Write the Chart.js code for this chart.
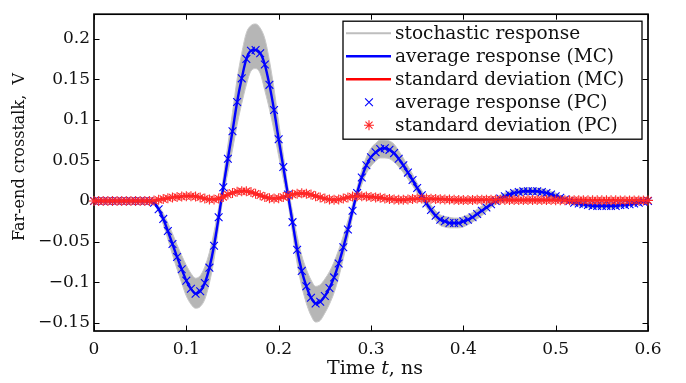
<!DOCTYPE html>
<html>
<head>
<meta charset="utf-8">
<script src="https://cdn.jsdelivr.net/npm/chart.js@4.4.1/dist/chart.umd.min.js"></script>
<style>
  html, body { margin: 0; padding: 0; background: #fff; }
  canvas { display: block; }
</style>
</head>
<body>
<canvas id="myChart" width="686" height="383"></canvas>
<script>
const timeNs = [
  0, 0.005, 0.01, 0.015, 0.02, 0.025, 0.03, 0.035, 0.04, 0.045,
  0.05, 0.055, 0.06, 0.065, 0.07, 0.075, 0.08, 0.085, 0.09, 0.095,
  0.1, 0.105, 0.11, 0.115, 0.12, 0.125, 0.13, 0.135, 0.14, 0.145,
  0.15, 0.155, 0.16, 0.165, 0.17, 0.175, 0.18, 0.185, 0.19, 0.195,
  0.2, 0.205, 0.21, 0.215, 0.22, 0.225, 0.23, 0.235, 0.24, 0.245,
  0.25, 0.255, 0.26, 0.265, 0.27, 0.275, 0.28, 0.285, 0.29, 0.295,
  0.3, 0.305, 0.31, 0.315, 0.32, 0.325, 0.33, 0.335, 0.34, 0.345,
  0.35, 0.355, 0.36, 0.365, 0.37, 0.375, 0.38, 0.385, 0.39, 0.395,
  0.4, 0.405, 0.41, 0.415, 0.42, 0.425, 0.43, 0.435, 0.44, 0.445,
  0.45, 0.455, 0.46, 0.465, 0.47, 0.475, 0.48, 0.485, 0.49, 0.495,
  0.5, 0.505, 0.51, 0.515, 0.52, 0.525, 0.53, 0.535, 0.54, 0.545,
  0.55, 0.555, 0.56, 0.565, 0.57, 0.575, 0.58, 0.585, 0.59, 0.595,
  0.6
];

const avgResponse = [
  0, 0, 0, 0, 0, 0, 0, 0, 0, 0,
  0, 0, 0, -0.002, -0.010, -0.022, -0.037, -0.053, -0.069, -0.084,
  -0.098, -0.108, -0.114, -0.111, -0.101, -0.082, -0.055, -0.020, 0.017, 0.052,
  0.086, 0.122, 0.151, 0.175, 0.185, 0.186, 0.182, 0.168, 0.143, 0.112,
  0.076, 0.042, 0.008, -0.026, -0.060, -0.086, -0.105, -0.119, -0.126, -0.124,
  -0.117, -0.107, -0.094, -0.077, -0.057, -0.035, -0.012, 0.010, 0.029, 0.044,
  0.054, 0.060, 0.064, 0.065, 0.063, 0.059, 0.052, 0.044, 0.035, 0.026,
  0.016, 0.007, -0.003, -0.011, -0.018, -0.023, -0.025, -0.027, -0.027, -0.027,
  -0.025, -0.023, -0.020, -0.016, -0.012, -0.008, -0.004, 0.000, 0.003, 0.006,
  0.008, 0.010, 0.011, 0.012, 0.012, 0.012, 0.012, 0.011, 0.010, 0.008,
  0.006, 0.004, 0.002, 0.000, -0.002, -0.003, -0.004, -0.005, -0.006, -0.006,
  -0.006, -0.006, -0.006, -0.006, -0.005, -0.005, -0.004, -0.003, -0.002, -0.001,
  0.000
];

const stdDeviation = [
  0, 0, 0, 0, 0, 0, 0, 0, 0, 0,
  0, 0, 0, 0.0005, 0.0015, 0.0025, 0.0035, 0.0045, 0.005, 0.0055,
  0.006, 0.006, 0.0055, 0.0045, 0.003, 0.002, 0.002, 0.003, 0.005, 0.008,
  0.010, 0.0115, 0.012, 0.012, 0.011, 0.009, 0.007, 0.005, 0.0035, 0.003,
  0.0035, 0.005, 0.0065, 0.008, 0.009, 0.0095, 0.009, 0.008, 0.006, 0.0045,
  0.003, 0.002, 0.0015, 0.002, 0.003, 0.0045, 0.0055, 0.006, 0.006, 0.0055,
  0.005, 0.0045, 0.004, 0.003, 0.0025, 0.002, 0.0015, 0.0015, 0.002, 0.0025,
  0.003, 0.003, 0.003, 0.0028, 0.0025, 0.0022, 0.002, 0.0018, 0.0015, 0.0013,
  0.0012, 0.0012, 0.0013, 0.0015, 0.0016, 0.0017, 0.0017, 0.0016, 0.0015, 0.0014,
  0.0013, 0.0012, 0.0012, 0.0012, 0.0013, 0.0013, 0.0013, 0.0013, 0.0012, 0.0012,
  0.0011, 0.0011, 0.001, 0.001, 0.001, 0.001, 0.001, 0.0009, 0.0009, 0.0009,
  0.0009, 0.0009, 0.0009, 0.0009, 0.0008, 0.0008, 0.0008, 0.0008, 0.0008, 0.0008,
  0.0008
];

// spread of the stochastic (Monte Carlo) responses: top and bottom of the grey bundle
const stochasticUpper = [
  0, 0, 0, 0, 0, 0, 0, 0, 0, 0,
  0, 0, 0, 0.000, -0.006, -0.015, -0.027, -0.040, -0.054, -0.067,
  -0.079, -0.089, -0.095, -0.092, -0.081, -0.063, -0.038, -0.008, 0.029, 0.069,
  0.109, 0.150, 0.182, 0.207, 0.216, 0.218, 0.213, 0.200, 0.173, 0.138,
  0.097, 0.057, 0.018, -0.013, -0.043, -0.067, -0.084, -0.097, -0.105, -0.103,
  -0.096, -0.087, -0.075, -0.060, -0.043, -0.024, -0.004, 0.017, 0.038, 0.054,
  0.065, 0.071, 0.075, 0.075, 0.074, 0.070, 0.062, 0.053, 0.043, 0.033,
  0.022, 0.013, 0.003, -0.005, -0.012, -0.017, -0.019, -0.020, -0.021, -0.021,
  -0.019, -0.017, -0.014, -0.010, -0.006, -0.003, 0.001, 0.004, 0.007, 0.010,
  0.012, 0.014, 0.015, 0.016, 0.016, 0.016, 0.016, 0.015, 0.014, 0.012,
  0.010, 0.007, 0.005, 0.003, 0.001, -0.001, -0.002, -0.003, -0.003, -0.003,
  -0.003, -0.003, -0.003, -0.003, -0.003, -0.003, -0.002, -0.001, 0.000, 0.000,
  0.000
];

const stochasticLower = [
  0, 0, 0, 0, 0, 0, 0, 0, 0, 0,
  0, 0, 0, -0.004, -0.014, -0.029, -0.047, -0.066, -0.084, -0.101,
  -0.117, -0.127, -0.132, -0.130, -0.121, -0.101, -0.072, -0.032, 0.005, 0.035,
  0.063, 0.094, 0.120, 0.143, 0.160, 0.163, 0.157, 0.136, 0.113, 0.086,
  0.055, 0.027, -0.002, -0.039, -0.077, -0.105, -0.126, -0.141, -0.149, -0.147,
  -0.138, -0.127, -0.113, -0.094, -0.071, -0.046, -0.020, 0.003, 0.020, 0.034,
  0.043, 0.049, 0.053, 0.053, 0.052, 0.048, 0.042, 0.035, 0.027, 0.019,
  0.010, 0.001, -0.008, -0.017, -0.024, -0.030, -0.032, -0.033, -0.033, -0.033,
  -0.032, -0.029, -0.026, -0.022, -0.018, -0.013, -0.008, -0.004, -0.001, 0.002,
  0.004, 0.006, 0.007, 0.008, 0.008, 0.008, 0.008, 0.007, 0.006, 0.004,
  0.002, 0.001, -0.001, -0.003, -0.005, -0.006, -0.007, -0.008, -0.009, -0.009,
  -0.009, -0.009, -0.009, -0.009, -0.008, -0.007, -0.006, -0.005, -0.004, -0.002,
  0.000
];

const xTickValues = [0, 0.1, 0.2, 0.3, 0.4, 0.5, 0.6];
const xTickLabels = ['0', '0.1', '0.2', '0.3', '0.4', '0.5', '0.6'];
const yTickValues = [-0.15, -0.1, -0.05, 0, 0.05, 0.1, 0.15, 0.2];
const yTickLabels = ['\u22120.15', '\u22120.1', '\u22120.05', '0', '0.05', '0.1', '0.15', '0.2'];

const serif = '"DejaVu Serif", "Liberation Serif", serif';

const toPoints = (ys) => timeNs.map((t, i) => ({ x: t, y: ys[i] }));

const lineSet = (label, ys, color, width, order) => ({
  label,
  data: toPoints(ys),
  borderColor: color,
  backgroundColor: color,
  borderWidth: width,
  pointRadius: 0,
  cubicInterpolationMode: 'monotone',
  fill: false,
  order
});

const markerSet = (label, ys, color, style, radius, order) => ({
  label,
  data: toPoints(ys),
  showLine: false,
  borderColor: color,
  backgroundColor: color,
  pointStyle: style,
  pointRadius: radius,
  pointBorderWidth: 1.1,
  clip: false,
  order
});

const datasets = [
  Object.assign(lineSet('stochastic response', stochasticUpper, 'rgb(200,200,200)', 1, 4), { legendColor: 'rgb(190,190,190)' }),
  Object.assign(lineSet('', stochasticLower, 'rgb(200,200,200)', 1, 5), { fill: '-1', backgroundColor: 'rgb(182,182,182)' }),
  lineSet('average response (MC)', avgResponse, '#0000ff', 2.4, 3),
  lineSet('standard deviation (MC)', stdDeviation, '#ff0000', 2.4, 2),
  markerSet('average response (PC)', avgResponse, '#0000ff', 'crossRot', 5.5, 1),
  markerSet('standard deviation (PC)', stdDeviation, 'rgb(255,40,40)', 'star', 5, 0)
];

const drawMarker = (ctx, style, x, y, r) => {
  ctx.beginPath();
  if (style === 'crossRot' || style === 'star') {
    const d = r * Math.SQRT1_2;
    ctx.moveTo(x - d, y - d); ctx.lineTo(x + d, y + d);
    ctx.moveTo(x - d, y + d); ctx.lineTo(x + d, y - d);
  }
  if (style === 'star') {
    ctx.moveTo(x - r, y); ctx.lineTo(x + r, y);
    ctx.moveTo(x, y - r); ctx.lineTo(x, y + r);
  }
  ctx.stroke();
};

const framePlugin = {
  id: 'frame',
  beforeDatasetsDraw(chart) {
    const { ctx, chartArea: a, scales } = chart;
    ctx.save();
    ctx.strokeStyle = '#000';
    ctx.lineWidth = 1;
    const tick = 5.5;
    xTickValues.forEach(v => {
      const px = Math.round(scales.x.getPixelForValue(v)) + 0.5;
      ctx.beginPath();
      ctx.moveTo(px, a.bottom); ctx.lineTo(px, a.bottom - tick);
      ctx.moveTo(px, a.top); ctx.lineTo(px, a.top + tick);
      ctx.stroke();
    });
    yTickValues.forEach(v => {
      const py = Math.round(scales.y.getPixelForValue(v)) + 0.5;
      ctx.beginPath();
      ctx.moveTo(a.left, py); ctx.lineTo(a.left + tick, py);
      ctx.moveTo(a.right, py); ctx.lineTo(a.right - tick, py);
      ctx.stroke();
    });
    ctx.lineWidth = 1.7;
    ctx.strokeRect(a.left, a.top, a.right - a.left, a.bottom - a.top);
    ctx.restore();
  },
  afterDraw(chart) {
    const { ctx, chartArea: a } = chart;
    ctx.save();

    // legend box, top right inside the axes
    const box = { left: a.right - 305, top: a.top + 7, width: 299, height: 118 };
    ctx.fillStyle = '#fff';
    ctx.fillRect(box.left, box.top, box.width, box.height);
    ctx.strokeStyle = '#000';
    ctx.lineWidth = 1.3;
    ctx.strokeRect(box.left, box.top, box.width, box.height);

    ctx.font = '18.5px ' + serif;
    ctx.textBaseline = 'middle';
    ctx.textAlign = 'left';
    let row = 0;
    chart.data.datasets.forEach(ds => {
      if (!ds.label) return;
      const y = box.top + 12 + row * 23;
      if (ds.showLine === false) {
        ctx.strokeStyle = ds.borderColor;
        ctx.lineWidth = 1.1;
        drawMarker(ctx, ds.pointStyle, box.left + 26, y, ds.pointRadius);
      } else {
        ctx.strokeStyle = ds.legendColor || ds.borderColor;
        ctx.lineWidth = ds.legendColor ? 2 : ds.borderWidth;
        ctx.beginPath();
        ctx.moveTo(box.left + 3, y);
        ctx.lineTo(box.left + 48, y);
        ctx.stroke();
      }
      ctx.fillStyle = '#111';
      ctx.fillText(ds.label, box.left + 52, y + 1);
      row++;
    });

    // axis titles
    ctx.fillStyle = '#111';
    ctx.font = '16px ' + serif;
    ctx.textAlign = 'center';
    ctx.translate(20, 157);
    ctx.rotate(-Math.PI / 2);
    ctx.fillText('Far-end crosstalk,  V', 0, 0);
    ctx.setTransform(1, 0, 0, 1, 0, 0);

    const parts = [['Time ', ''], ['t', 'italic '], [', ns', '']];
    const widths = parts.map(([s, st]) => { ctx.font = st + '19px ' + serif; return ctx.measureText(s).width; });
    let x = (a.left + a.right) / 2 + 4 - widths.reduce((p, w) => p + w, 0) / 2;
    ctx.textAlign = 'left';
    parts.forEach(([s, st], i) => {
      ctx.font = st + '19px ' + serif;
      ctx.fillText(s, x, 369);
      x += widths[i];
    });
    ctx.restore();
  }
};

const tickFont = { family: serif, size: 17 };

new Chart(document.getElementById('myChart').getContext('2d'), {
  type: 'line',
  data: { datasets },
  plugins: [framePlugin],
  options: {
    responsive: false,
    animation: false,
    devicePixelRatio: 1,
    layout: { padding: { top: 6, right: 38, left: 0, bottom: 0 } },
    plugins: {
      legend: { display: false },
      tooltip: { enabled: false }
    },
    scales: {
      x: {
        type: 'linear',
        min: 0,
        max: 0.6,
        grid: { display: false, drawTicks: false },
        border: { display: false },
        afterBuildTicks: (s) => { s.ticks = xTickValues.map(v => ({ value: v })); },
        afterFit: (s) => { s.height = 52; },
        ticks: {
          font: tickFont,
          color: '#111',
          padding: 8,
          maxRotation: 0,
          autoSkip: false,
          callback: (v, i) => xTickLabels[i]
        }
      },
      y: {
        type: 'linear',
        min: -0.16,
        max: 0.23,
        grid: { display: false, drawTicks: false },
        border: { display: false },
        afterBuildTicks: (s) => { s.ticks = yTickValues.map(v => ({ value: v })); },
        afterFit: (s) => { s.width = 94; },
        ticks: {
          font: tickFont,
          color: '#111',
          padding: 4,
          autoSkip: false,
          callback: (v, i) => yTickLabels[i]
        }
      }
    }
  }
});
</script>
</body>
</html>
